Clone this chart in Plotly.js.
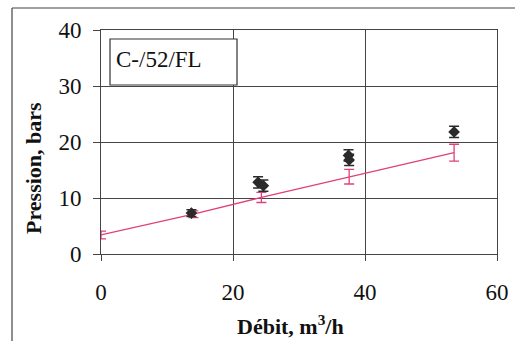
<!DOCTYPE html>
<html><head><meta charset="utf-8">
<script src="https://cdn.plot.ly/plotly-3.0.1.min.js"></script>
<style>html,body{margin:0;padding:0;background:#fff;}#c{width:515px;height:341px;}</style>
</head><body><div id="c"></div>
<script>
const blackX = [13.7, 23.8, 24.6, 37.5, 37.6, 53.5];
const blackY = [7.3, 12.8, 12.2, 17.6, 16.8, 21.8];
const blackErr = [0.6, 1.0, 1.0, 1.0, 1.0, 1.0];
const pinkX = [0, 14, 24.3, 37.6, 53.5];
const pinkY = [3.4, 7.1, 10.1, 13.8, 18.1];
const pinkErr = [0.7, 0.6, 0.9, 1.3, 1.5];
const xTicks = [0, 20, 40, 60];
const yTicks = [0, 10, 20, 30, 40];
const label = "C-/52/FL";
const xTitle = "<b>Débit, m<sup>3</sup>/h</b>";
const yTitle = "<b>Pression, bars</b>";

const L = 101, R = 18, T = 30, B = 87, W = 515, H = 341;
const pw = W - L - R, ph = H - T - B;
const px = v => (v - L) / pw;
const py = v => (H - B - v) / ph;

const traces = [
  {x: pinkX, y: pinkY, mode: 'lines', type: 'scatter',
   line: {color: '#e0407a', width: 1.3},
   error_y: {type: 'data', array: pinkErr, visible: true, color: '#e0407a', thickness: 1.3, width: 5}},
  {x: blackX, y: blackY, mode: 'markers', type: 'scatter',
   marker: {symbol: 'diamond', size: 9, color: '#2a2a2a'},
   error_y: {type: 'data', array: blackErr, visible: true, color: '#2a2a2a', thickness: 1.5, width: 5}}
];
const fam = 'Liberation Serif, Times New Roman, serif';
const layout = {
  width: W, height: H, showlegend: false,
  margin: {l: L, r: R, t: T, b: B},
  paper_bgcolor: '#fff', plot_bgcolor: '#fff',
  font: {family: fam, color: '#111'},
  xaxis: {range: [0, 60], tickvals: xTicks, ticktext: xTicks.map(String), showgrid: true,
    gridcolor: '#444', gridwidth: 1, zeroline: false, showline: true, linecolor: '#444', mirror: true,
    ticks: 'outside', ticklen: 6, tickcolor: '#444', ticklabelstandoff: 11,
    tickfont: {family: fam, size: 23, color: '#111'}},
  yaxis: {range: [0, 40], tickvals: yTicks, ticktext: yTicks.map(String), showgrid: true,
    gridcolor: '#444', gridwidth: 1, zeroline: false, showline: true, linecolor: '#444', mirror: true,
    ticks: 'outside', ticklen: 7, tickcolor: '#444', ticklabelstandoff: 7,
    tickfont: {family: fam, size: 23, color: '#111'}},
  shapes: [
    {type: 'line', xref: 'paper', yref: 'paper', x0: px(12), x1: px(515), y0: py(8), y1: py(8), line: {color: '#444', width: 1.2}},
    {type: 'line', xref: 'paper', yref: 'paper', x0: px(12), x1: px(12), y0: py(8), y1: py(341), line: {color: '#444', width: 1.2}},
    {type: 'rect', xref: 'paper', yref: 'paper', x0: px(110), x1: px(237), y0: py(85), y1: py(39), line: {color: '#333', width: 1.2}, fillcolor: '#fff'}
  ],
  annotations: [
    {xref: 'paper', yref: 'paper', x: px(114), y: py(59), xanchor: 'left', yanchor: 'middle', showarrow: false,
     text: label, font: {family: fam, size: 23, color: '#111'}},
    {xref: 'paper', yref: 'paper', x: px(290), y: py(325), xanchor: 'center', yanchor: 'middle', showarrow: false,
     text: xTitle, font: {family: fam, size: 22, color: '#111'}},
    {xref: 'paper', yref: 'paper', x: px(33), y: py(168), xanchor: 'center', yanchor: 'middle', showarrow: false,
     textangle: -90, text: yTitle, font: {family: fam, size: 22, color: '#111'}}
  ]
};
Plotly.newPlot('c', traces, layout, {displayModeBar: false, staticPlot: true});
</script></body></html>
